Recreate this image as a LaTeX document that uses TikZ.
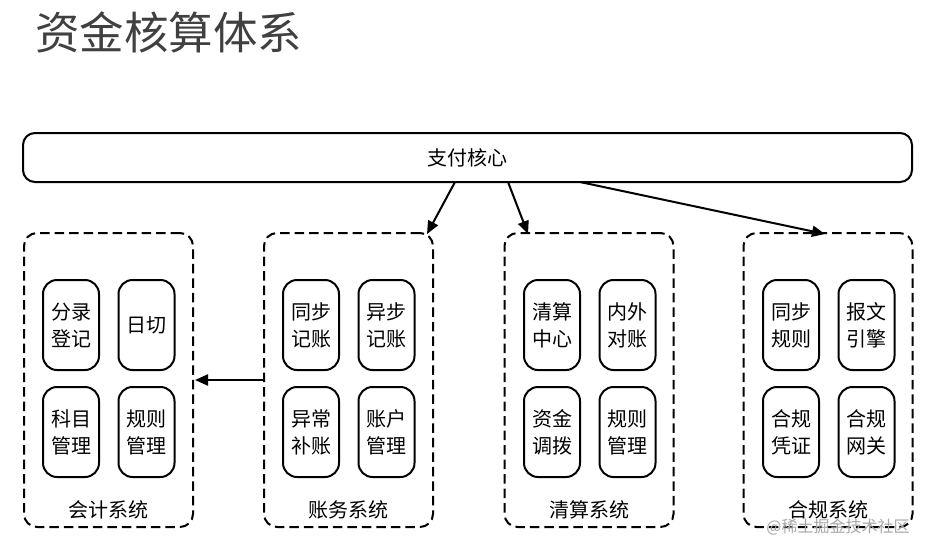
\documentclass[tikz,border=0pt]{standalone}
\usepackage{fontspec}
\setmainfont{Noto Sans CJK SC}
\usetikzlibrary{arrows.meta}
\begin{document}
\begin{tikzpicture}[x=1pt,y=-1pt,
 every node/.style={inner sep=0pt, outer sep=0pt},
 sys/.style={draw, line width=2pt, dash pattern=on 9.5pt off 5pt, rounded corners=13pt, minimum width=169pt, minimum height=294pt},
 item/.style={draw, line width=2pt, rounded corners=14pt, minimum width=56pt, minimum height=90pt, align=center, font=\fontsize{20}{27}\selectfont},
 lbl/.style={font=\fontsize{20}{24}\selectfont},
 arr/.style={line width=2pt, -{Triangle[length=13pt,width=11pt]}}]
\useasboundingbox (0,0) rectangle (936,555);
\node[text=black!75, font=\fontsize{44.5}{50}\selectfont, anchor=west] (title) at (35,32) {资金核算体系};
\node[draw, line width=2pt, rounded corners=12pt, minimum width=889pt, minimum height=49pt, font=\fontsize{20}{24}\selectfont] (core) at (467.5,157.5) {支付核心};
% systems
\node[sys] (acct) at (108.5,380) {};
\node[sys] (ledger) at (348.5,380) {};
\node[sys] (clear) at (589,380) {};
\node[sys] (comp) at (828,380) {};
\node[lbl] (acctl) at (108.5,510) {会计系统};
\node[lbl] (ledgerl) at (348.5,510) {账务系统};
\node[lbl] (clearl) at (589,510) {清算系统};
\node[lbl] (compl) at (828,510) {合规系统};
% items
\node[item] (a1) at (71,325) {分录\\登记};
\node[item] (a2) at (146.5,325) {日切};
\node[item] (a3) at (71,432) {科目\\管理};
\node[item] (a4) at (146.5,432) {规则\\管理};
\node[item] (b1) at (311,325) {同步\\记账};
\node[item] (b2) at (386.5,325) {异步\\记账};
\node[item] (b3) at (311,432) {异常\\补账};
\node[item] (b4) at (386.5,432) {账户\\管理};
\node[item] (c1) at (552,325) {清算\\中心};
\node[item] (c2) at (627.5,325) {内外\\对账};
\node[item] (c3) at (552,432) {资金\\调拨};
\node[item] (c4) at (627.5,432) {规则\\管理};
\node[item] (d1) at (791,325) {同步\\规则};
\node[item] (d2) at (866.5,325) {报文\\引擎};
\node[item] (d3) at (791,432) {合规\\凭证};
\node[item] (d4) at (866.5,432) {合规\\网关};
% arrows
\draw[arr] ([xshift=-12.5pt]core.south) -- ([xshift=78.5pt,yshift=-1pt]ledger.north);
\draw[arr] ([xshift=40.5pt]core.south) -- ([xshift=-61pt,yshift=-1pt]clear.north);
\draw[arr] ([xshift=112.5pt]core.south) -- ([xshift=-3pt,yshift=-1pt]comp.north);
\draw[arr] (ledger.west) -- ([xshift=2pt]acct.east);
% watermark
\node[text=black!35, font=\fontsize{16}{18}\selectfont] (wm) at (838,527) {@稀土掘金技术社区};
\end{tikzpicture}
\end{document}
